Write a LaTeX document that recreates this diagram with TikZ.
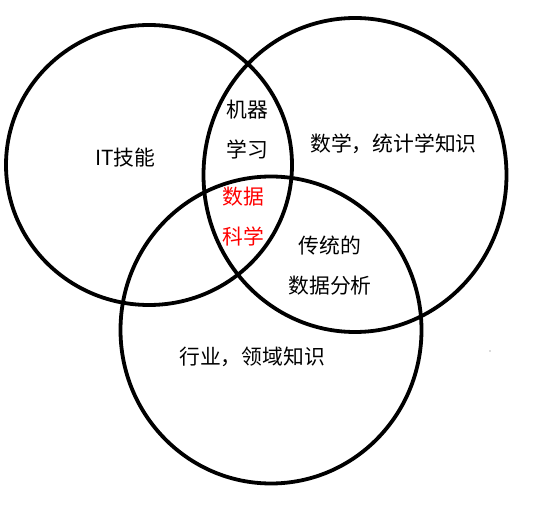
\documentclass[tikz,border=0pt]{standalone}
\usepackage{fontspec}
\setmainfont{Noto Sans CJK SC}

\begin{document}
\begin{tikzpicture}[x=1pt,y=-1pt,
		ring/.style={line width=3.8pt},
		lbl/.style={font=\fontsize{20.8}{40}\selectfont,align=center,inner sep=0pt}]
			\useasboundingbox (0,0) rectangle (547,505);
			\draw[ring] (149,165) ellipse[x radius=143pt,y radius=140pt];
			\draw[ring] (355,175) ellipse[x radius=151.5pt,y radius=157pt];
			\draw[ring] (271,330) ellipse[x radius=150.5pt,y radius=153.5pt];
			\node[lbl] (it) at (125.5,158) {IT技能};
			\node[lbl] (ml) at (247,130) {机器\\学习};
			\node[lbl] (math) at (393.5,144) {数学，统计学知识};
			\node[lbl,text=red] (ds) at (243.5,217) {数据\\科学};
			\node[lbl] (tda) at (330,266) {传统的\\数据分析};
			\node[lbl] (dom) at (252,357) {行业，领域知识};
			\fill[black!60] (490,351) circle (0.6pt);
		\end{tikzpicture}
\end{document}
